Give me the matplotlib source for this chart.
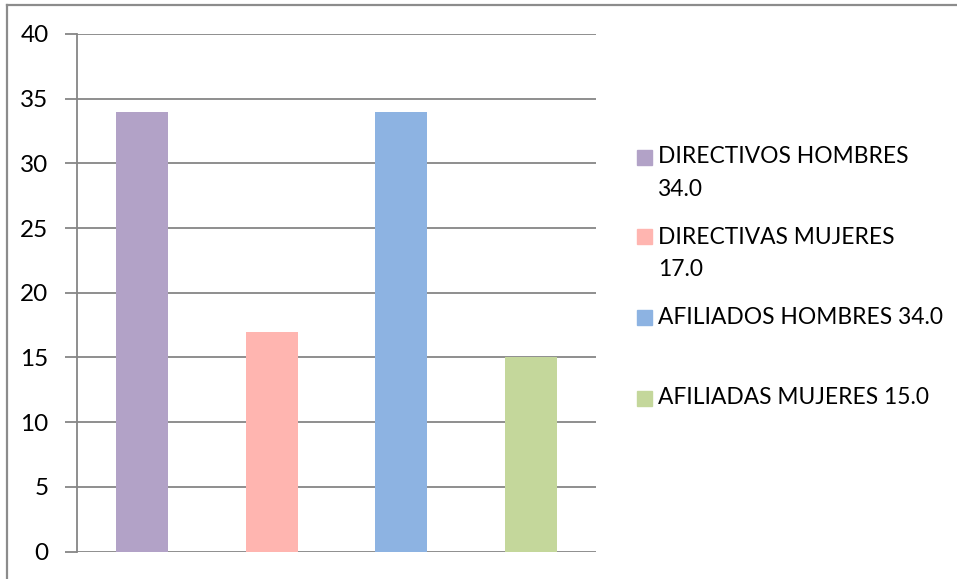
import matplotlib.pyplot as plt
from matplotlib.patches import Rectangle
from matplotlib.lines import Line2D

categories = ['DIRECTIVOS HOMBRES', 'DIRECTIVAS MUJERES', 'AFILIADOS HOMBRES', 'AFILIADAS MUJERES']
values = [34.0, 17.0, 34.0, 15.0]
colors = ['#B2A2C7', '#FFB5B0', '#8DB3E2', '#C4D79B']
yticks = [0, 5, 10, 15, 20, 25, 30, 35, 40]

W, H = 957, 579
fig = plt.figure(figsize=(W / 100, H / 100), dpi=100)
plt.rcParams['font.family'] = ['Lato', 'DejaVu Sans']

ax = fig.add_axes([77 / W, 1 - 551.5 / H, (596 - 77) / W, (551.5 - 34) / H])
x = range(len(categories))
ax.bar(x, values, width=0.4, color=colors, zorder=3)
ax.set_xlim(-0.5, len(categories) - 0.5)
ax.set_ylim(0, 40)
ax.set_yticks(yticks)
ax.set_xticks([])
ax.tick_params(axis='y', length=9, width=1.3, color='#868686', labelsize=17.5, pad=11.5)
ax.grid(axis='y', color='#868686', linewidth=1.3, zorder=0)
for s in ['top', 'right', 'bottom']:
    ax.spines[s].set_visible(False)
ax.spines['left'].set_color('#868686')
ax.spines['left'].set_linewidth(1.3)
for t in ax.get_yticklabels():
    t.set_clip_on(False)

# outer chart border (extends past right and bottom edges)
fig.add_artist(Line2D([7.5 / W, 1], [1 - 5 / H, 1 - 5 / H], color='#8C8C8C', lw=1.6))
fig.add_artist(Line2D([7.5 / W, 7.5 / W], [0, 1 - 5 / H], color='#8C8C8C', lw=1.6))

# legend drawn by hand, Excel style wrapping
label_lines = [
    [categories[0], f'{values[0]:.1f}'],
    [categories[1], f'{values[1]:.1f}'],
    [f'{categories[2]} {values[2]:.1f}'],
    [f'{categories[3]} {values[3]:.1f}'],
]
first_line_y = [157, 237, 317, 398]
for lines, y0, c in zip(label_lines, first_line_y, colors):
    fig.add_artist(Rectangle((637 / W, 1 - (y0 + 7.5) / H), 15 / W, 15 / H,
                             color=c, transform=fig.transFigure))
    for i, line in enumerate(lines):
        fig.text(658 / W, 1 - (y0 + 33 * i) / H, line, fontsize=16.4,
                 va='center', ha='left', color='black')

fig.savefig('out.png', dpi=100)
